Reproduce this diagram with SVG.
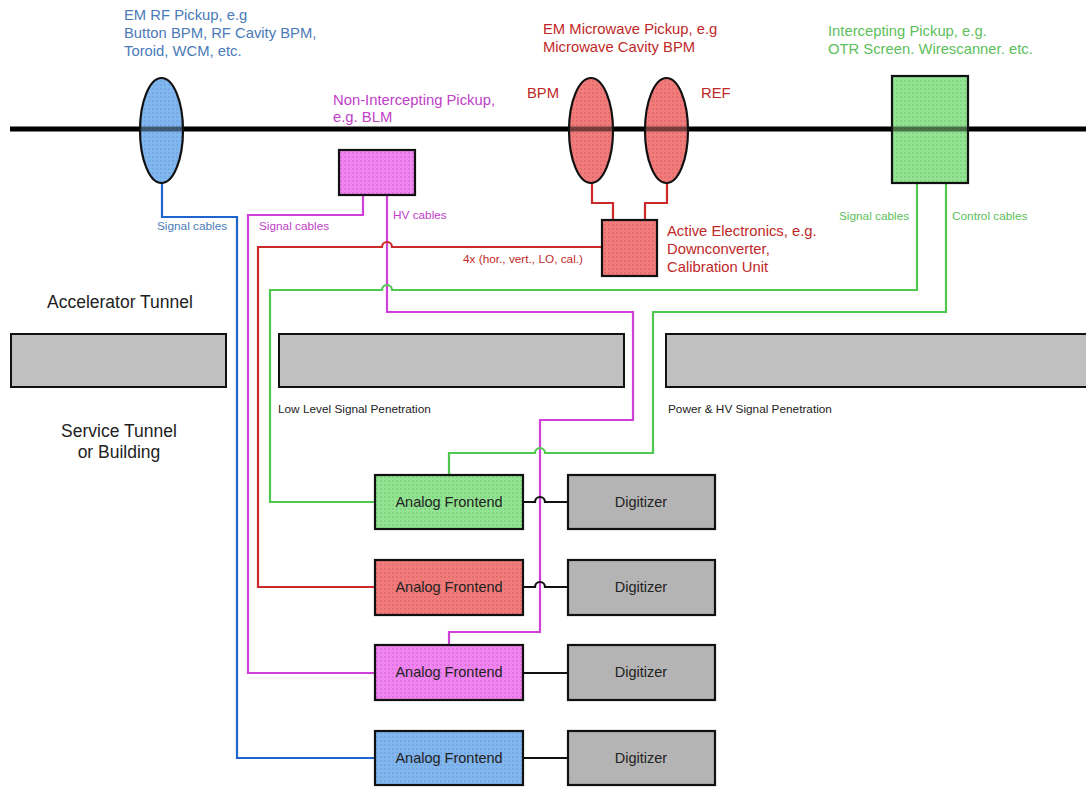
<svg xmlns="http://www.w3.org/2000/svg" width="1086" height="788" viewBox="0 0 1086 788">
<defs>
<pattern id="pBlue" width="4" height="4" patternUnits="userSpaceOnUse"><rect width="4" height="4" fill="#82b6ee"/><circle cx="1" cy="1" r="0.7" fill="#5d94d4"/></pattern>
<pattern id="pRed" width="4" height="4" patternUnits="userSpaceOnUse"><rect width="4" height="4" fill="#f27c7c"/><circle cx="1" cy="1" r="0.7" fill="#c85454"/></pattern>
<pattern id="pGreen" width="4" height="4" patternUnits="userSpaceOnUse"><rect width="4" height="4" fill="#92e492"/><circle cx="1" cy="1" r="0.7" fill="#68bc68"/></pattern>
<pattern id="pMag" width="4" height="4" patternUnits="userSpaceOnUse"><rect width="4" height="4" fill="#f084f0"/><circle cx="1" cy="1" r="0.7" fill="#c458c4"/></pattern>
<style>
text{font-family:"Liberation Sans",Arial,sans-serif}
.lbl{font-size:14.8px}
.sm{font-size:11.8px}
.big{font-size:17.5px;fill:#222}
.node{font-size:14.5px;fill:#222;text-anchor:middle}
.tb{fill:#4a7ab8}.tm{fill:#c040c8}.tr{fill:#c02828}.tg{fill:#5cc05c}.tk{fill:#222}
.shape{stroke:#111;stroke-width:2.2}
.gray{fill:#c0c0c0;stroke:#111;stroke-width:2}
.dig{fill:#b4b4b4;stroke:#111;stroke-width:2.2}
.w{fill:none;stroke-width:2.2;stroke-linejoin:miter}
.cb{stroke:#1f66cc}.cm{stroke:#d040d8}.cr{stroke:#cc2a2a}.cg{stroke:#50c850}.ck{stroke:#111}
.thru{stroke:#000;stroke-width:5;stroke-opacity:0.5}
</style>
</defs>
<rect width="1086" height="788" fill="#fff"/>

<g id="labels">
<text class="lbl tb" x="124" y="20">EM RF Pickup, e.g</text>
<text class="lbl tb" x="124" y="38">Button BPM, RF Cavity BPM,</text>
<text class="lbl tb" x="124" y="56">Toroid, WCM, etc.</text>
<text class="lbl tm" x="333" y="105">Non-Intercepting Pickup,</text>
<text class="lbl tm" x="333" y="122">e.g. BLM</text>
<text class="lbl tr" x="543" y="34">EM Microwave Pickup, e.g</text>
<text class="lbl tr" x="543" y="52">Microwave Cavity BPM</text>
<text class="lbl tr" x="527" y="98">BPM</text>
<text class="lbl tr" x="701" y="98">REF</text>
<text class="lbl tg" x="828" y="36">Intercepting Pickup, e.g.</text>
<text class="lbl tg" x="828" y="54">OTR Screen. Wirescanner. etc.</text>
<text class="lbl tr" x="667" y="236">Active Electronics, e.g.</text>
<text class="lbl tr" x="667" y="254">Downconverter,</text>
<text class="lbl tr" x="667" y="272">Calibration Unit</text>
<text class="sm tb" x="157" y="230">Signal cables</text>
<text class="sm tm" x="259" y="230">Signal cables</text>
<text class="sm tm" x="393" y="219">HV cables</text>
<text class="sm tr" x="463" y="263">4x (hor., vert., LO, cal.)</text>
<text class="sm tg" x="839" y="220">Signal cables</text>
<text class="sm tg" x="952" y="220">Control cables</text>
<text class="big" x="47" y="308">Accelerator Tunnel</text>
<text class="big" x="119" y="437" text-anchor="middle">Service Tunnel</text>
<text class="big" x="119" y="458" text-anchor="middle">or Building</text>
<text class="sm tk" x="278" y="413">Low Level Signal Penetration</text>
<text class="sm tk" x="668" y="413">Power &amp; HV Signal Penetration</text>
</g>

<g id="beam">
<line x1="10" y1="129" x2="1086" y2="129" stroke="#000" stroke-width="5"/>
</g>

<g id="walls">
<rect class="gray" x="11" y="334" width="215" height="53"/>
<rect class="gray" x="279" y="334" width="345" height="53"/>
<rect class="gray" x="666" y="334" width="425" height="53"/>
</g>

<g id="connectors">
<path class="w cb" d="M162,183 V217 H237 V758 H375"/>
<path class="w cm" d="M363,195 V215 H248 V673 H375"/>
<path class="w cm" d="M387,195 V312 H633 V420 H540 V632 H449 V645"/>
<path class="w cr" d="M592,183 V203 H613 V220"/>
<path class="w cr" d="M667,183 V203 H645 V220"/>
<path class="w cr" d="M602,247 H392 A5,5 0 0 0 382,247 H258 V587 H375"/>
<path class="w cg" d="M917,183 V290 H392 A5,5 0 0 0 382,290 H270 V502 H375"/>
<path class="w cg" d="M946,183 V312 H653 V453 H545 A5,5 0 0 0 535,453 H449 V475"/>
<path class="w ck" d="M523,502 H535 A5,5 0 0 1 545,502 H568"/>
<path class="w ck" d="M523,587 H535 A5,5 0 0 1 545,587 H568"/>
<path class="w ck" d="M523,673 H568"/>
<path class="w ck" d="M523,758 H568"/>
</g>

<g id="em-rf-pickup">
<ellipse class="shape" cx="161.5" cy="130.5" rx="21.5" ry="52.5" fill="url(#pBlue)"/>
<line class="thru" x1="141" y1="129" x2="182" y2="129"/>
</g>
<g id="non-intercepting-pickup">
<rect class="shape" x="339" y="150" width="76" height="45" fill="url(#pMag)"/>
</g>
<g id="bpm">
<ellipse class="shape" cx="591" cy="130.5" rx="22" ry="52.5" fill="url(#pRed)"/>
<line class="thru" x1="570" y1="129" x2="612" y2="129"/>
</g>
<g id="ref">
<ellipse class="shape" cx="666.5" cy="130.5" rx="21.5" ry="52.5" fill="url(#pRed)"/>
<line class="thru" x1="646" y1="129" x2="687" y2="129"/>
</g>
<g id="active-electronics">
<rect class="shape" x="602" y="220" width="55" height="56" fill="url(#pRed)"/>
</g>
<g id="intercepting-pickup">
<rect class="shape" x="892" y="76" width="76" height="107" fill="url(#pGreen)"/>
<line class="thru" x1="893" y1="129" x2="967" y2="129"/>
</g>

<g id="afe-green">
<rect class="shape" x="375" y="475" width="148" height="54" fill="url(#pGreen)"/>
<text class="node" x="449" y="507">Analog Frontend</text>
</g>
<g id="dig-green">
<rect class="dig" x="568" y="475" width="147" height="54"/>
<text class="node" x="641" y="507">Digitizer</text>
</g>
<g id="afe-red">
<rect class="shape" x="375" y="560" width="148" height="55" fill="url(#pRed)"/>
<text class="node" x="449" y="592">Analog Frontend</text>
</g>
<g id="dig-red">
<rect class="dig" x="568" y="560" width="147" height="55"/>
<text class="node" x="641" y="592">Digitizer</text>
</g>
<g id="afe-mag">
<rect class="shape" x="375" y="645" width="148" height="55" fill="url(#pMag)"/>
<text class="node" x="449" y="677">Analog Frontend</text>
</g>
<g id="dig-mag">
<rect class="dig" x="568" y="645" width="147" height="55"/>
<text class="node" x="641" y="677">Digitizer</text>
</g>
<g id="afe-blue">
<rect class="shape" x="375" y="731" width="148" height="54" fill="url(#pBlue)"/>
<text class="node" x="449" y="763">Analog Frontend</text>
</g>
<g id="dig-blue">
<rect class="dig" x="568" y="731" width="147" height="54"/>
<text class="node" x="641" y="763">Digitizer</text>
</g>
</svg>
